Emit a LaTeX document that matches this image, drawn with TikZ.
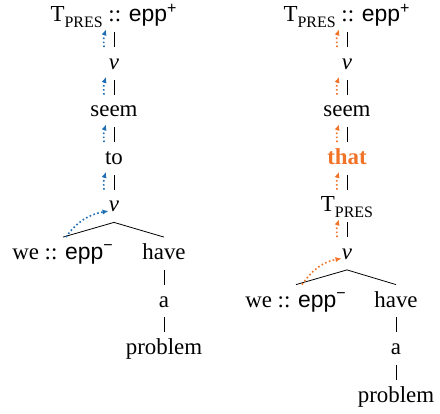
\documentclass[tikz,border=0pt]{standalone}
\usepackage{fontspec}
\setmainfont{Liberation Serif}
\newfontfamily\eppfont{Liberation Sans}
\usetikzlibrary{
    arrows.meta,
    positioning
}

\definecolor{moveblue}{RGB}{31,110,180}
\definecolor{moveorange}{RGB}{240,115,40}

\newcommand{\tpres}{T\raisebox{-3bp}{\fontsize{8}{8}\selectfont PRES}}
\newcommand{\epp}[1]{{\eppfont epp\textsuperscript{#1}}}

\tikzset{
    word/.style={inner sep=0pt, text height=11bp, text depth=5bp, anchor=base,
        font=\fontsize{11.5}{13}\selectfont},
    move/.style={line width=0.8bp, dash pattern=on 0.8bp off 1.2bp,
        -{Latex[length=3bp, width=2.6bp]}}
}

\begin{document}
\begin{tikzpicture}[x=0.5bp, y=0.5bp]
    \useasboundingbox (0,0) rectangle (440,-414);

    % left tree
    \node[word] (T1)       at (114,-22)    {\tpres{} :: \epp{+}};
    \node[word] (v1)       at (114,-69.5)  {\textit{v}};
    \node[word] (seem1)    at (114,-117)   {seem};
    \node[word] (to1)      at (114,-164.5) {to};
    \node[word] (vv1)      at (114,-212)   {\textit{v}};
    \node[word] (we1)      at (63,-259.5)  {we :: \epp{−}};
    \node[word] (have1)    at (164,-259.5) {have};
    \node[word] (a1)       at (164,-307)   {a};
    \node[word] (problem1) at (164,-354.5) {problem};

    \foreach \hi/\lo in {T1/v1, v1/seem1, seem1/to1, to1/vv1, have1/a1, a1/problem1}
        \draw (\hi) -- (\lo);
    \draw (we1.north) -- (vv1.south) -- (have1.north);

    \foreach \hi/\lo in {T1/v1, v1/seem1, seem1/to1, to1/vv1}
        \draw[move, moveblue] ([xshift=-5bp]\lo.north) to[bend left=12] ([xshift=-4bp, yshift=1.5bp]\hi.south);
    \draw[move, moveblue] ([xshift=1.5bp]we1.north) to[out=55, in=190] ([yshift=0.5bp]vv1.base west);

    % right tree
    \node[word] (T2)       at (347,-22)    {\tpres{} :: \epp{+}};
    \node[word] (v2)       at (347,-69.5)  {\textit{v}};
    \node[word] (seem2)    at (347,-117)   {seem};
    \node[word, text=moveorange] (that2) at (347,-164.5) {\textbf{that}};
    \node[word] (TT2)      at (347,-212)   {\tpres};
    \node[word] (vv2)      at (347,-259.5) {\textit{v}};
    \node[word] (we2)      at (296,-307)   {we :: \epp{−}};
    \node[word] (have2)    at (396,-307)   {have};
    \node[word] (a2)       at (396,-354.5) {a};
    \node[word] (problem2) at (396,-402)   {problem};

    \foreach \hi/\lo in {T2/v2, v2/seem2, seem2/that2, that2/TT2, TT2/vv2, have2/a2, a2/problem2}
        \draw (\hi) -- (\lo);
    \draw (we2.north) -- (vv2.south) -- (have2.north);

    \foreach \hi/\lo in {T2/v2, v2/seem2, seem2/that2, that2/TT2, TT2/vv2}
        \draw[move, moveorange] ([xshift=-5bp]\lo.north) to[bend left=12] ([xshift=-4bp, yshift=1.5bp]\hi.south);
    \draw[move, moveorange] ([xshift=3bp]we2.north) to[out=55, in=190] ([yshift=0.5bp]vv2.base west);
\end{tikzpicture}
\end{document}
